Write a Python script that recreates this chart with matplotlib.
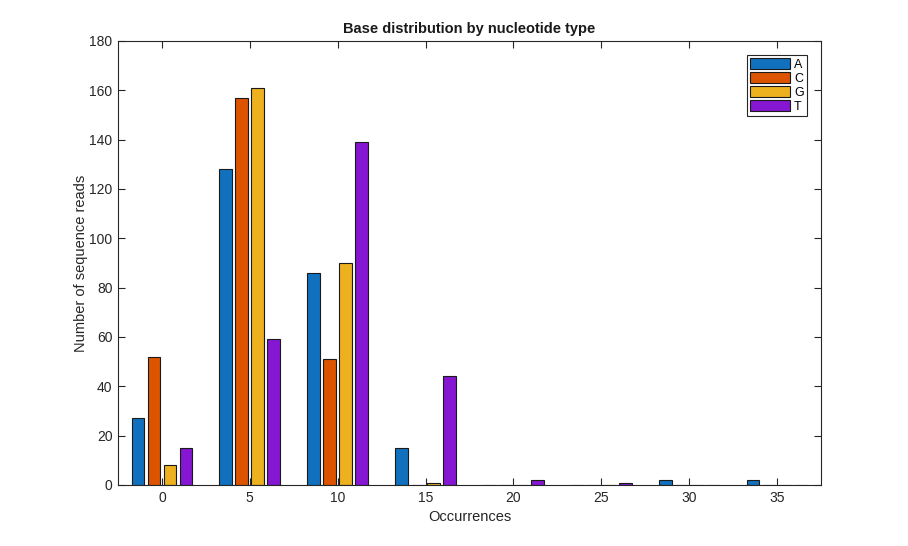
import numpy as np
import matplotlib
matplotlib.use("Agg")
import matplotlib.pyplot as plt

plt.rcParams['font.family'] = ['Liberation Sans', 'DejaVu Sans']

# histogram bin centres and counts per nucleotide
bins = [0, 5, 10, 15, 20, 25, 30, 35]
bases = ['A', 'C', 'G', 'T']
counts_A = [27, 128, 86, 15, 0, 0, 2, 2]
counts_C = [52, 157, 51, 0, 0, 0, 0, 0]
counts_G = [8, 161, 90, 1, 0, 0, 0, 0]
counts_T = [15, 59, 139, 44, 2, 1, 0, 0]
colors = ['#1171BE', '#DD5400', '#EDB120', '#8516D1']

fig = plt.figure(figsize=(9.08, 5.46), dpi=100)
ax = fig.add_axes([118/908, 1 - 485/546, (821-118)/908, (485-41)/546])

x = np.array(bins, dtype=float)
step = 0.91
width = 0.73
series = [counts_A, counts_C, counts_G, counts_T]
for i, (vals, c, lab) in enumerate(zip(series, colors, bases)):
    off = (i - 1.5) * step
    ax.bar(x + off, vals, width=width, color=c, edgecolor='#1a1a1a',
           linewidth=0.8, label=lab, zorder=2)

ax.set_xlim(-2.5, 37.5)
ax.set_ylim(0, 180)
ax.set_xticks(bins)
ax.set_yticks(np.arange(0, 181, 20))
ax.tick_params(direction='in', top=True, right=True, length=5,
               width=0.8, labelsize=10, colors='#262626', pad=4)
for s in ax.spines.values():
    s.set_linewidth(0.8)
    s.set_color('#262626')

ax.set_title('Base distribution by nucleotide type', fontsize=10.5,
             fontweight='bold', color='#1a1a1a', pad=6)
ax.set_xlabel('Occurrences', fontsize=10.5, color='#262626', labelpad=4)
ax.set_ylabel('Number of sequence reads', fontsize=10.5, color='#262626', labelpad=1)

leg = ax.legend(loc='upper right', bbox_to_anchor=(0.98, 0.968), fontsize=9,
                handlelength=3.2, handleheight=0.9, handletextpad=0.3,
                labelspacing=0.12, borderpad=0.25, borderaxespad=0,
                fancybox=False, framealpha=1, edgecolor='#262626')
leg.get_frame().set_linewidth(0.8)

fig.savefig('out.png', dpi=100)
